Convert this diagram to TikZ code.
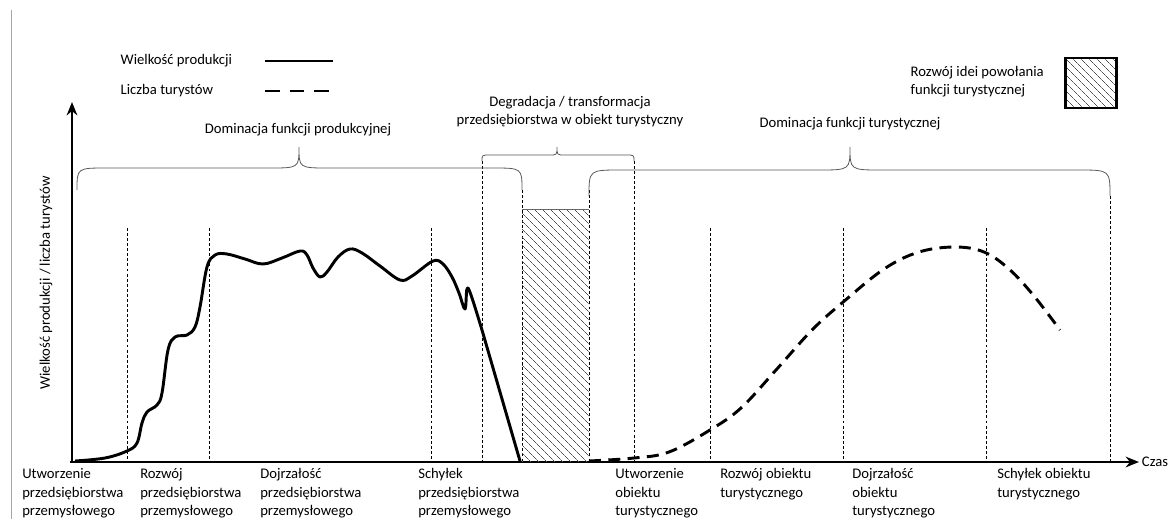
\documentclass[tikz,border=0pt]{standalone}
\usepackage{fontspec}
\setmainfont{Carlito}
\usetikzlibrary{positioning, arrows.meta, patterns.meta}

\tikzset{
  axis/.style={line width=2.2pt, -{Stealth[length=10pt,width=8pt]}},
  phase/.style={dash pattern=on 2.2pt off 1.6pt, line width=0.45pt},
  produkcja/.style={line width=2.2pt, line join=round},
  turysci/.style={line width=2.2pt, dash pattern=on 9pt off 5.5pt},
  klamra/.style={draw=black!65, line width=0.6pt},
  hatch/.style={pattern={Lines[angle=-45,distance=4pt,line width=0.4pt]}, pattern color=black!70},
  etykieta/.style={anchor=north west, align=left, inner sep=0pt},
}

% x1, x2, tip x, line y, end y, radius
\newcommand{\nawias}[6]{%
  \draw[klamra] (#1,#5) .. controls (#1,#4) .. ({#1+#6},#4) -- ({#3-#6},#4)
    .. controls (#3,#4) .. (#3,147) .. controls (#3,#4) .. ({#3+#6},#4)
    -- ({#2-#6},#4) .. controls (#2,#4) .. (#2,#5);}

\begin{document}
\begin{tikzpicture}[x=0.75pt, y=-0.75pt, font=\fontsize{11}{13.6}\selectfont]
\useasboundingbox (0,0) rectangle (1171,519);
\draw[black!35, line width=0.6pt] (11,10) -- (11,519);

% legenda
\node[anchor=west] (lprod) at (116,61) {Wielkość produkcji};
\node[anchor=west] (ltur) at (116,91) {Liczba turystów};
\coordinate (lp1) at (265,61);
\coordinate (lp2) at (333,61);
\coordinate (lt1) at (265,91);
\coordinate (lt2) at (331,91);
\draw[produkcja] (lp1) -- (lp2);
\draw[turysci, dash pattern=on 11pt off 7.5pt] (lt1) -- (lt2);
\node[anchor=west, align=left] (lidea) at (906,82) {Rozwój idei powołania\\funkcji turystycznej};
\node[draw, hatch, line width=2pt, minimum width=38pt, minimum height=37.5pt] (lbox) at (1091,83) {};

% osie
\coordinate (O) at (72,462);
\coordinate (ytop) at (72,102);
\coordinate (xend) at (1139,462);
\draw[axis] (O) -- (ytop);
\draw[axis] (70,462) -- (xend);
\node[right=2pt of xend, inner sep=0pt] (czas) {Czas};
\node[rotate=90] (ylab) at (46,283) {Wielkość produkcji / liczba turystów};

% fazy
\foreach \x in {127,209,431,710,843,986}
  \draw[phase] (\x,228) -- (\x,461);
\foreach \x in {482,634}
  \draw[phase] (\x,161) -- (\x,461);
\foreach \x in {522,589}
  \draw[phase] (\x,190) -- (\x,461);
\draw[phase] (1110,196) -- (1110,461);

\fill[hatch] (522,209) rectangle (589,461);
\draw[black!60, line width=0.5pt] (522,209) -- (589,209);

% klamry
\nawias{77}{522}{299}{168}{190}{30}
\nawias{482}{634}{557}{155}{161}{8}
\nawias{589}{1110}{850}{170}{196}{32}

\node (dprod) at (298,130) {Dominacja funkcji produkcyjnej};
\node[align=center] (degr) at (570,112) {Degradacja / transformacja\\przedsiębiorstwa w obiekt turystyczny};
\node (dtur) at (850,124) {Dominacja funkcji turystycznej};

% krzywe
\draw[produkcja] plot[smooth, tension=0.6] coordinates {
  (75,461) (105,458) (127,451) (137,443) (142,423) (147,412) (157,405)
  (162,393) (168,350) (175,337) (187,335) (195,327) (200,307) (207,267)
  (215,255) (227,254) (245,259) (263,264) (282,258) (300,251) (307,255)
  (313,268) (320,277) (327,272) (338,257) (350,249) (362,253) (380,266)
  (400,280) (412,276) (433,261) (443,264) (452,277) (459,293) (465,309)
  (467,289) (471,295) (482,330)} -- (520,461);
\draw[turysci] plot[smooth, tension=0.6] coordinates {
  (589,461) (634,458) (669,452) (710,430) (741,408) (776,370) (812,330)
  (842,303) (884,269) (919,252) (955,247) (984,252) (1009,269) (1034,296)
  (1060,330)};

% etapy
\node[etykieta] (e1) at (22,466) {\strut Utworzenie\\przedsiębiorstwa\\przemysłowego};
\node[etykieta] (e2) at (140,466) {\strut Rozwój\\przedsiębiorstwa\\przemysłowego};
\node[etykieta] (e3) at (260,466) {\strut Dojrzałość\\przedsiębiorstwa\\przemysłowego};
\node[etykieta] (e4) at (418,466) {\strut Schyłek\\przedsiębiorstwa\\przemysłowego};
\node[etykieta] (e5) at (615,466) {\strut Utworzenie\\obiektu\\turystycznego};
\node[etykieta] (e6) at (720,466) {\strut Rozwój obiektu\\turystycznego};
\node[etykieta] (e7) at (852,466) {\strut Dojrzałość\\obiektu\\turystycznego};
\node[etykieta] (e8) at (997,466) {\strut Schyłek obiektu\\turystycznego};
\end{tikzpicture}
\end{document}
